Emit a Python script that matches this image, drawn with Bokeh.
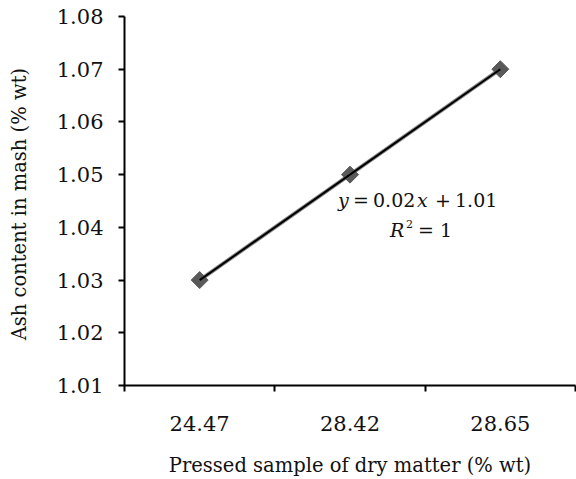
import numpy as np
from bokeh.plotting import figure
from bokeh.models import FixedTicker, Label, Range1d, PrintfTickFormatter
from bokeh.embed import file_html
from bokeh.resources import INLINE

# ---- data ----
categories = ["24.47", "28.42", "28.65"]
ash = [1.03, 1.05, 1.07]
y_ticks = [1.01, 1.02, 1.03, 1.04, 1.05, 1.06, 1.07, 1.08]
x_title = "Pressed sample of dry matter (% wt)"
y_title = "Ash content in mash (%  wt)"

FONT = "DejaVu Serif"
TXT = "#111111"

idx = np.arange(len(categories))
xs = idx + 0.5
slope, intercept = np.polyfit(idx + 1, ash, 1)
trend = slope * (idx + 1) + intercept

p = figure(width=576, height=479,
           x_range=Range1d(0, len(categories)),
           y_range=Range1d(y_ticks[0], y_ticks[-1]),
           output_backend="svg", toolbar_location=None,
           min_border_left=124, min_border_top=16, min_border_right=1,
           min_border_bottom=94)
p.outline_line_color = None
p.xgrid.visible = False
p.ygrid.visible = False

p.line(xs, ash, line_color="#8a8a8a", line_width=4)
p.scatter(xs, ash, marker="square", angle=np.pi / 4, size=12,
          fill_color="#595959", line_color="#595959")
p.line(xs, trend, line_color="black", line_width=2)

# x axis
xa = p.xaxis[0]
xa.ticker = FixedTicker(ticks=list(xs), minor_ticks=list(range(len(categories) + 1)))
xa.major_label_overrides = {float(x): c for x, c in zip(xs, categories)}
xa.major_tick_out = 0
xa.major_tick_in = 0
xa.minor_tick_out = 6
xa.minor_tick_in = 0
xa.minor_tick_line_color = "black"
xa.minor_tick_line_width = 2
xa.axis_line_color = "black"
xa.axis_line_width = 2
xa.major_label_text_font = FONT
xa.major_label_text_font_size = "21px"
xa.major_label_text_color = TXT
xa.major_label_standoff = 24
xa.axis_label = x_title
xa.axis_label_text_font = FONT
xa.axis_label_text_font_size = "19.5px"
xa.axis_label_text_font_style = "normal"
xa.axis_label_text_color = TXT
xa.axis_label_standoff = 20

# y axis
ya = p.yaxis[0]
ya.ticker = FixedTicker(ticks=y_ticks)
ya.formatter = PrintfTickFormatter(format="%.2f")
ya.major_tick_out = 6
ya.major_tick_in = 0
ya.minor_tick_line_color = None
ya.major_tick_line_color = "black"
ya.major_tick_line_width = 2
ya.axis_line_color = "black"
ya.axis_line_width = 2
ya.major_label_text_font = FONT
ya.major_label_text_font_size = "21px"
ya.major_label_text_color = TXT
ya.major_label_standoff = 15
ya.axis_label = y_title
ya.axis_label_text_font = FONT
ya.axis_label_text_font_size = "19.5px"
ya.axis_label_text_font_style = "normal"
ya.axis_label_text_color = TXT
ya.axis_label_standoff = 23

# trendline equation, anchored at the middle point
ax, ay = float(xs[1]), ash[1]
eq_pieces = [
    ("y", "italic", -12, -25, "19px"),
    ("=", "normal", 3, -25, "19px"),
    (f"{slope:.2f}", "normal", 23, -25, "19px"),
    ("x", "italic", 67, -25, "19px"),
    ("+", "normal", 85, -25, "19px"),
    (f"{intercept:.2f}", "normal", 105, -25, "19px"),
    ("R", "italic", 40, -55, "19px"),
    ("2", "normal", 56, -49, "11px"),
    ("=", "normal", 68, -55, "19px"),
    ("1", "normal", 90, -55, "19px"),
]
for txt, style, dx, dy, fs in eq_pieces:
    p.add_layout(Label(x=ax, y=ay, x_offset=dx, y_offset=dy, text=txt,
                       text_font=FONT, text_font_style=style, text_font_size=fs,
                       text_color=TXT, text_baseline="middle", text_align="left"))

open("out.html", "w").write(file_html(p, INLINE))
